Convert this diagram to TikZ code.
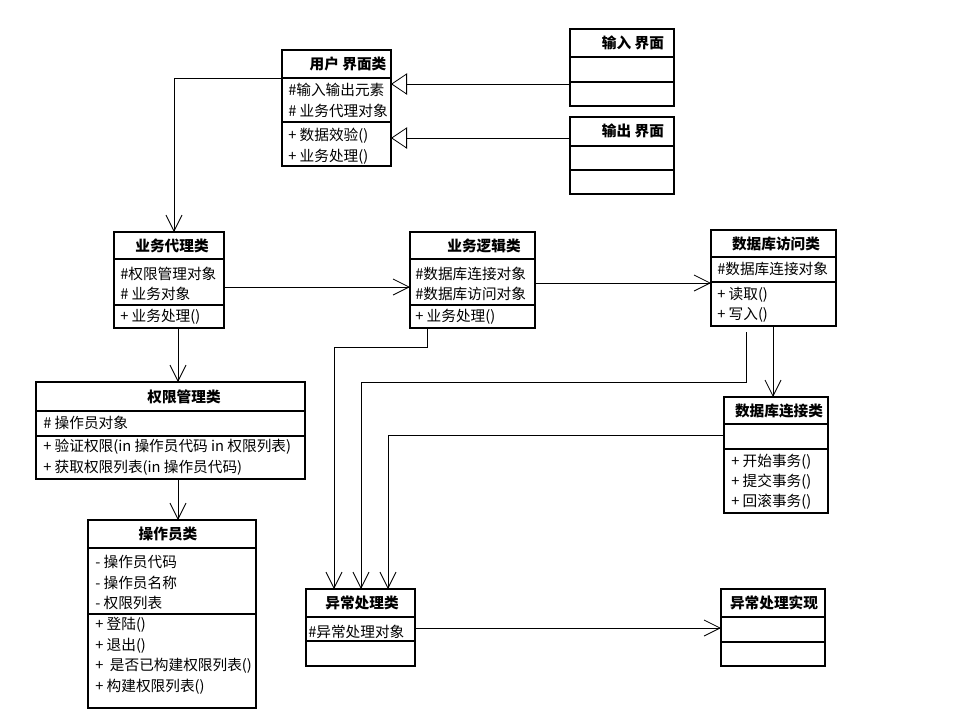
\documentclass[tikz,border=0pt]{standalone}
\usepackage{fontspec}
\setmainfont{Noto Sans CJK SC}
\usetikzlibrary{arrows.meta}

\tikzset{
    classbox/.style={draw, line width=0.8pt, inner sep=0pt, outer sep=0pt},
    classname/.style={inner sep=0pt, font=\fontsize{11}{13}\selectfont\bfseries},
    member/.style={anchor=west, inner sep=0pt, font=\fontsize{11}{13}\selectfont},
    assoc/.style={line width=0.6pt, -{Straight Barb[length=12pt,width=12pt,line width=0.6pt]}},
    inherit/.style={line width=0.6pt, -{Triangle[open,length=12pt,width=16pt,fill=white,line width=0.6pt]}},
}

% class box: name, left, top, right, bottom, first divider, second divider
\newcommand{\umlclass}[7]{%
    \pgfmathsetmacro\clsw{(#4-#2)*0.75}
    \pgfmathsetmacro\clsh{(#5-#3)*0.75}
    \node[classbox, minimum width=\clsw pt, minimum height=\clsh pt, anchor=north west] (#1) at (#2,#3) {};
    \draw[line width=0.8pt] (#1.west |- 0,#6) -- (#1.east |- 0,#6);
    \draw[line width=0.8pt] (#1.west |- 0,#7) -- (#1.east |- 0,#7);
}
% rows of a section: prefix, x, first row, texts
\newcommand{\umlrows}[5][20.5]{%
    \foreach \txt [count=\k] in {#5} {
            \node[member] (#2\k) at (#3, {#4+(\k-1)*#1}) {\txt};
        }
}

\begin{document}
\begin{tikzpicture}[x=0.75pt, y=-0.75pt]
    \useasboundingbox (0,0) rectangle (967,711);

    % Draw the classes
    \umlclass{ui}{282}{50}{391}{166}{78}{122}
    \umlclass{input}{570}{29}{674}{106}{57}{82}
    \umlclass{output}{570}{117}{674}{194}{146}{170}
    \umlclass{agent}{114}{232}{224}{328}{259}{305}
    \umlclass{logic}{410}{232}{535}{328}{259}{305}
    \umlclass{dbaccess}{711}{230}{836}{326}{257}{282}
    \umlclass{auth}{36}{382}{305}{479}{411}{436}
    \umlclass{operator}{88}{520}{256}{708}{548}{614}
    \umlclass{dbconn}{724}{397}{828}{513}{424}{449}
    \umlclass{exc}{306}{589}{415}{666}{617}{641}
    \umlclass{excimpl}{721}{589}{825}{666}{617}{642}

    % Class names
    \node[classname] (ui-t) at (348,64) {用户 界面类};
    \node[classname] (input-t) at (633,43) {输入 界面};
    \node[classname] (output-t) at (633,131) {输出 界面};
    \node[classname] (agent-t) at (172,246) {业务代理类};
    \node[classname] (logic-t) at (484,246) {业务逻辑类};
    \node[classname] (dbaccess-t) at (776,244) {数据库访问类};
    \node[classname] (auth-t) at (184,397) {权限管理类};
    \node[classname] (operator-t) at (168,534) {操作员类};
    \node[classname] (dbconn-t) at (779,411) {数据库连接类};
    \node[classname] (exc-t) at (362,603) {异常处理类};
    \node[classname] (excimpl-t) at (774,603) {异常处理实现};

    % Attributes and operations
    \umlrows[21]{ui-a}{288}{90}{\#输入输出元素, \# 业务代理对象}
    \umlrows[20.5]{ui-m}{288}{136}{+ 数据效验(), + 业务处理()}
    \umlrows[20]{agent-a}{120}{274}{\#权限管理对象, \# 业务对象}
    \umlrows{agent-m}{120}{317}{+ 业务处理()}
    \umlrows[20]{logic-a}{415}{274}{\#数据库连接对象, \#数据库访问对象}
    \umlrows{logic-m}{415}{317}{+ 业务处理()}
    \umlrows{dbaccess-a}{717}{269}{\#数据库连接对象}
    \umlrows[20]{dbaccess-m}{717}{295}{+ 读取(), + 写入()}
    \umlrows{auth-a}{43}{423}{\# 操作员对象}
    \umlrows{auth-m}{43}{447}{+ 验证权限(in 操作员代码 in 权限列表), +\ 获取权限列表(in 操作员代码)}
    \umlrows{operator-a}{95}{562}{- 操作员代码, - 操作员名称, - 权限列表}
    \umlrows{operator-m}{95}{625}{+ 登陆(), + 退出(), +\ \ 是否已构建权限列表(), +\ 构建权限列表()}
    \umlrows[20]{dbconn-m}{731}{462}{+ 开始事务(), + 提交事务(), + 回滚事务()}
    \umlrows{exc-a}{308}{632}{\#异常处理对象}

    % Generalizations
    \draw[inherit] (input.west |- 0,84) -- (ui.east |- 0,84);
    \draw[inherit] (output.west |- 0,138) -- (ui.east |- 0,138);

    % Associations
    \draw[assoc] (ui.west |- 0,78) -| (174,0 |- agent.north);
    \draw[assoc] (agent.east |- 0,287) -- (logic.west |- 0,287);
    \draw[assoc] (logic.east |- 0,283) -- (dbaccess.west |- 0,283);
    \draw[assoc] (178,0 |- agent.south) -- (178,0 |- auth.north);
    \draw[assoc] (178,0 |- auth.south) -- (178,0 |- operator.north);
    \draw[assoc] (773,0 |- dbaccess.south) -- (773,0 |- dbconn.north);
    \draw[assoc] (427,0 |- logic.south) |- (334,347) -- (334,0 |- exc.north);
    \draw[assoc] (746,332) |- (361,382) -- (361,0 |- exc.north);
    \draw[assoc] (dbconn.west |- 0,435) -| (388,0 |- exc.north);
    \draw[assoc] (exc.east |- 0,628) -- (excimpl.west |- 0,628);
\end{tikzpicture}
\end{document}
